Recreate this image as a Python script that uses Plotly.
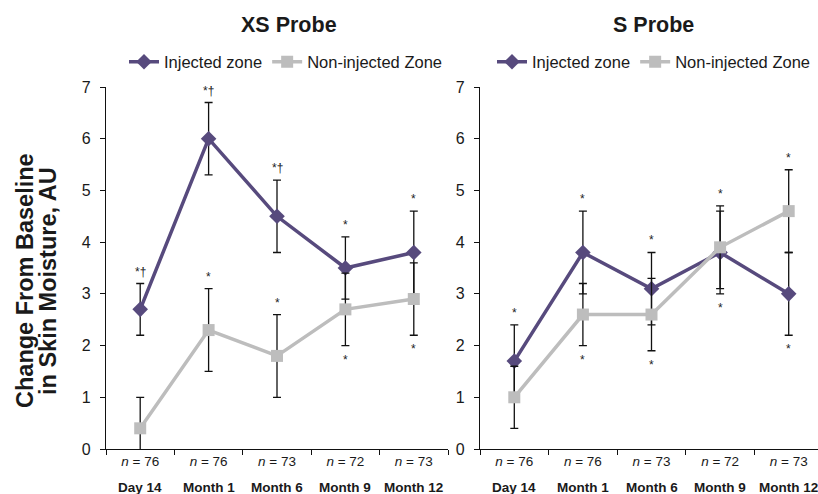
import plotly.graph_objects as go

# ---------------- data ----------------
visits = ["Day 14", "Month 1", "Month 6", "Month 9", "Month 12"]
n_labels = ["<i>n</i> = 76", "<i>n</i> = 76", "<i>n</i> = 73", "<i>n</i> = 72", "<i>n</i> = 73"]
series_names = ["Injected zone", "Non-injected Zone"]

xs_injected = [2.7, 6.0, 4.5, 3.5, 3.8]
xs_injected_err = [0.5, 0.7, 0.7, 0.6, 0.8]
xs_noninj = [0.4, 2.3, 1.8, 2.7, 2.9]
xs_noninj_err = [0.6, 0.8, 0.8, 0.7, 0.7]

s_injected = [1.7, 3.8, 3.1, 3.8, 3.0]
s_injected_err = [0.7, 0.8, 0.7, 0.8, 0.8]
s_noninj = [1.0, 2.6, 2.6, 3.9, 4.6]
s_noninj_err = [0.6, 0.6, 0.7, 0.8, 0.8]

# significance marks (label, side of error bar)
xs_inj_marks = ["*†", "*†", "*†", "*", "*"]
xs_inj_side = ["above", "above", "above", "above", "above"]
xs_non_marks = ["", "*", "*", "*", "*"]
xs_non_side = ["", "above", "above", "below", "below"]
s_inj_marks = ["*", "*", "*", "*", "*"]
s_inj_side = ["above", "above", "above", "below", "below"]
s_non_marks = ["", "*", "*", "*", "*"]
s_non_side = ["", "below", "below", "above", "above"]

# ---------------- style ----------------
PURPLE = "#574A7D"
GRAY = "#BDBDBD"
FONT = "Liberation Sans, Arial, sans-serif"
W, H = 818, 494
ML, MR, MT, MB = 106, 0, 87, 45
PW = W - ML - MR
PH = H - MT - MB

def px_x(p):
    return (p - ML) / PW

def px_y(p):
    return (H - MB - p) / PH

fig = go.Figure()

panels = [
    ("x", "y", "legend", xs_injected, xs_injected_err, xs_noninj, xs_noninj_err,
     xs_inj_marks, xs_inj_side, xs_non_marks, xs_non_side),
    ("x2", "y2", "legend2", s_injected, s_injected_err, s_noninj, s_noninj_err,
     s_inj_marks, s_inj_side, s_non_marks, s_non_side),
]

annotations = []
for (xa, ya, leg, inj, inj_e, non, non_e, im, iside, nm, nside) in panels:
    fig.add_trace(go.Scatter(
        x=visits, y=inj, name=series_names[0], xaxis=xa, yaxis=ya, legend=leg,
        mode="lines+markers",
        line=dict(color=PURPLE, width=3.5),
        marker=dict(symbol="diamond", size=12, color=PURPLE),
        error_y=dict(type="data", array=inj_e, color="#111111", thickness=1.3, width=4),
        cliponaxis=False,
    ))
    fig.add_trace(go.Scatter(
        x=visits, y=non, name=series_names[1], xaxis=xa, yaxis=ya, legend=leg,
        mode="lines+markers",
        line=dict(color=GRAY, width=3.5),
        marker=dict(symbol="square", size=12, color=GRAY),
        error_y=dict(type="data", array=non_e, color="#111111", thickness=1.3, width=4),
        cliponaxis=False,
    ))
    for vals, errs, marks, sides in [(inj, inj_e, im, iside), (non, non_e, nm, nside)]:
        for v, val, e, m, sd in zip(visits, vals, errs, marks, sides):
            if not m:
                continue
            if sd == "above":
                yv, shift = val + e, 12
            else:
                yv, shift = val - e, -14
            annotations.append(dict(
                x=v, y=yv, xref=xa, yref=ya, text=m, showarrow=False,
                xanchor="center", yanchor="middle", yshift=shift,
                font=dict(size=12, color="#222222", family=FONT),
            ))
    # visit names under n labels
    for v in visits:
        annotations.append(dict(
            x=v, y=px_y(487), xref=xa, yref="paper", text="<b>" + v + "</b>",
            showarrow=False, xanchor="center", yanchor="middle",
            font=dict(size=13.5, color="#1a1a1a", family=FONT),
        ))

# panel titles
annotations.append(dict(x=px_x(289), y=px_y(25), xref="paper", yref="paper",
                        text="<b>XS Probe</b>", showarrow=False,
                        xanchor="center", yanchor="middle",
                        font=dict(size=21.5, color="#1a1a1a", family=FONT)))
annotations.append(dict(x=px_x(653), y=px_y(25), xref="paper", yref="paper",
                        text="<b>S Probe</b>", showarrow=False,
                        xanchor="center", yanchor="middle",
                        font=dict(size=21.5, color="#1a1a1a", family=FONT)))
# y-axis title (two lines)
annotations.append(dict(x=px_x(25), y=px_y(281), xref="paper", yref="paper",
                        text="<b>Change From Baseline</b>", textangle=-90, showarrow=False,
                        xanchor="center", yanchor="middle",
                        font=dict(size=23.5, color="#1a1a1a", family=FONT)))
annotations.append(dict(x=px_x(48), y=px_y(281), xref="paper", yref="paper",
                        text="<b>in Skin Moisture, AU</b>", textangle=-90, showarrow=False,
                        xanchor="center", yanchor="middle",
                        font=dict(size=23.5, color="#1a1a1a", family=FONT)))

alias = dict(zip(visits, n_labels))
xcommon = dict(type="category", tickson="boundaries", ticks="outside", ticklen=5,
               tickcolor="#111111", showline=True, linecolor="#111111", linewidth=1.2,
               showgrid=False, zeroline=False, labelalias=alias,
               tickfont=dict(size=13.5, color="#1a1a1a", family=FONT),
               categoryorder="array", categoryarray=visits)
ycommon = dict(range=[0, 7], dtick=1, ticks="outside", ticklen=5, tickcolor="#111111",
               showline=True, linecolor="#111111", linewidth=1.2, showgrid=False,
               zeroline=False, ticklabelstandoff=6,
               tickfont=dict(size=16, color="#1a1a1a", family=FONT))

x1_right = px_x(448)
x2_left = px_x(480)
right_cats = -0.5 + (W - 480) / 68.6

fig.update_layout(
    width=W, height=H,
    margin=dict(l=ML, r=MR, t=MT, b=MB),
    paper_bgcolor="white", plot_bgcolor="white",
    font=dict(family=FONT, color="#1a1a1a"),
    xaxis=dict(domain=[0, x1_right], range=[-0.5, 4.5], anchor="y", **xcommon),
    xaxis2=dict(domain=[x2_left, 1], range=[-0.5, right_cats], anchor="y2", **xcommon),
    yaxis=dict(domain=[0, 1], anchor="x", **ycommon),
    yaxis2=dict(domain=[0, 1], anchor="x2", **ycommon),
    legend=dict(orientation="h", x=px_x(124), y=px_y(62), xref="paper", yref="paper",
                xanchor="left", yanchor="middle", bgcolor="rgba(0,0,0,0)",
                font=dict(size=16.5, color="#1a1a1a", family=FONT), itemwidth=30),
    legend2=dict(orientation="h", x=px_x(492), y=px_y(62), xref="paper", yref="paper",
                 xanchor="left", yanchor="middle", bgcolor="rgba(0,0,0,0)",
                 font=dict(size=16.5, color="#1a1a1a", family=FONT), itemwidth=30),
    annotations=annotations,
    showlegend=True,
)

fig.write_html("out.html")
